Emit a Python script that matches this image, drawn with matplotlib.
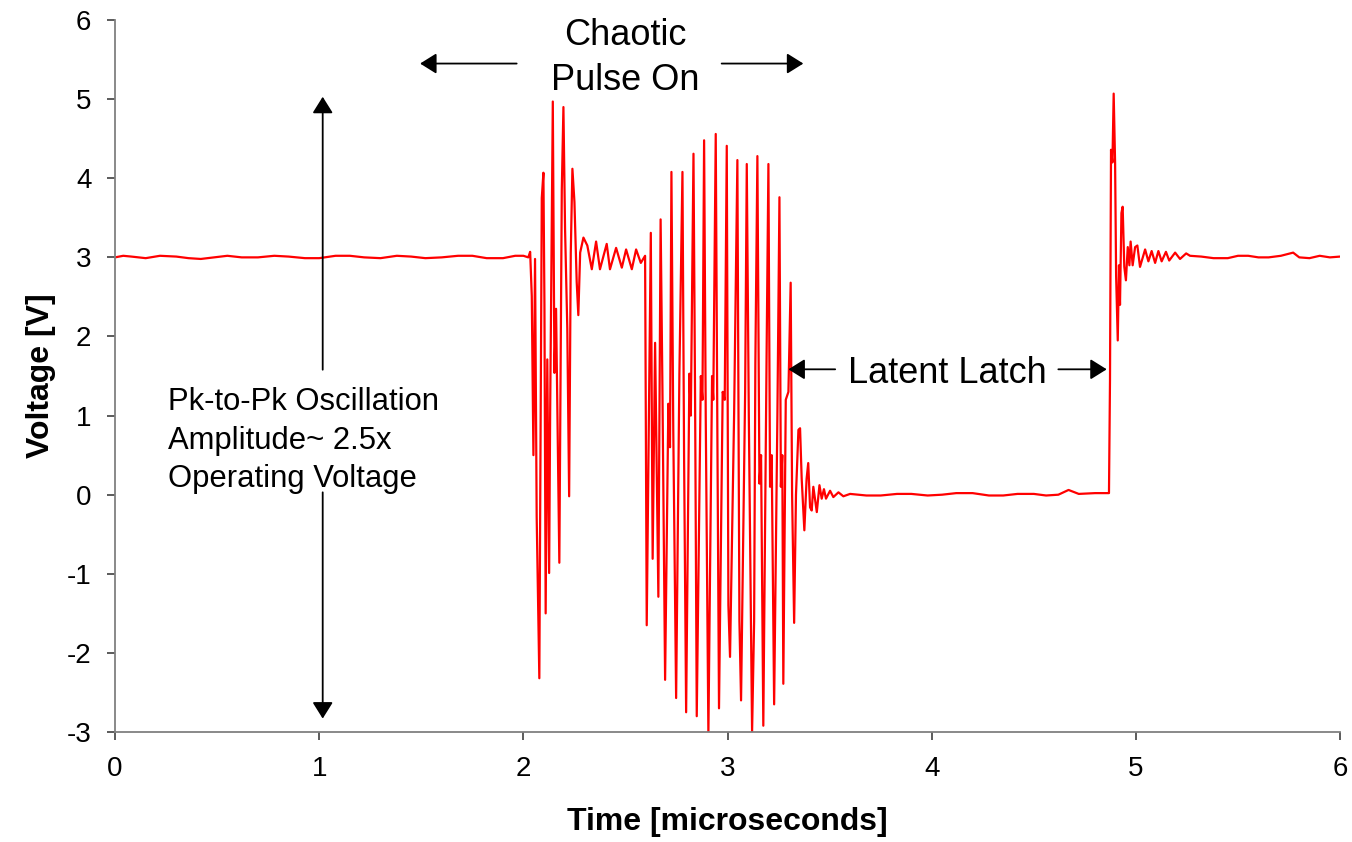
import matplotlib
matplotlib.use('Agg')
import matplotlib.pyplot as plt

plt.rcParams['font.family'] = ['Liberation Sans', 'DejaVu Sans']
plt.rcParams['axes.unicode_minus'] = False

# tramo plano inicial a 3 V
t_plano1 = [0.0, 0.04, 0.08, 0.15, 0.22, 0.3, 0.36, 0.42, 0.55, 0.62, 0.7, 0.78, 0.85, 0.93, 1.0, 1.08,
            1.15, 1.22, 1.3, 1.38, 1.45, 1.52, 1.6, 1.68, 1.75, 1.82, 1.9, 1.96, 2.0, 2.024]
v_plano1 = [3.0, 3.02, 3.01, 2.99, 3.02, 3.01, 2.99, 2.98, 3.02, 3.0, 3.0, 3.02, 3.01, 2.99, 2.99, 3.02,
            3.02, 3.0, 2.99, 3.02, 3.01, 2.99, 3.0, 3.02, 3.02, 2.99, 2.99, 3.02, 3.02, 3.0]

# primer estallido
t_rafaga1 = [2.033, 2.041, 2.049, 2.057, 2.065, 2.078, 2.090, 2.098, 2.103, 2.109, 2.117, 2.126, 2.131,
             2.144, 2.152, 2.160, 2.176, 2.188, 2.196, 2.204, 2.215, 2.224, 2.232, 2.240, 2.250, 2.261,
             2.269, 2.278, 2.294, 2.313, 2.335, 2.356, 2.375, 2.408, 2.424, 2.454, 2.482, 2.503, 2.531,
             2.552, 2.575, 2.596]
v_rafaga1 = [3.07, 2.51, 0.50, 2.98, -0.28, -2.32, 3.75, 4.07, 2.40, -1.50, 1.71, -0.99, 1.03,
             4.97, 1.54, 2.35, -0.86, 3.85, 4.90, 3.36, 2.10, -0.02, 3.06, 4.12, 3.70, 2.69,
             2.27, 3.06, 3.25, 3.15, 2.85, 3.20, 2.85, 3.17, 2.85, 3.12, 2.87, 3.10, 2.85,
             3.10, 2.93, 3.02]

# segundo estallido (pulso caotico)
t_rafaga2 = [2.604, 2.624, 2.633, 2.645, 2.661, 2.672, 2.681, 2.694, 2.710, 2.718, 2.725, 2.734, 2.748,
             2.764, 2.779, 2.787, 2.797, 2.813, 2.820, 2.833, 2.841, 2.849, 2.869, 2.877, 2.885, 2.893,
             2.906, 2.924, 2.930, 2.942, 2.950, 2.958, 2.976, 2.986, 2.996, 3.004, 3.012, 3.032, 3.048,
             3.058, 3.066, 3.086, 3.094, 3.104, 3.120, 3.130, 3.136, 3.146, 3.156, 3.164, 3.175, 3.191,
             3.200, 3.208, 3.216, 3.228, 3.244, 3.254, 3.261, 3.268, 3.273, 3.285, 3.298, 3.309, 3.316,
             3.326, 3.335, 3.347, 3.355, 3.363, 3.376, 3.387, 3.395, 3.404, 3.412, 3.420, 3.428, 3.437,
             3.450, 3.461, 3.472, 3.482, 3.502, 3.518, 3.543, 3.567]
v_rafaga2 = [-1.65, 3.31, -0.81, 1.92, -1.29, 3.48, 1.32, -2.34, 1.15, 0.60, 4.08, 0.82, -2.57,
             1.53, 4.08, 0.46, -2.75, 1.53, 1.00, 4.31, 1.15, -2.80, 1.50, 1.20, 4.48, 1.00,
             -3.03, 1.50, 1.20, 4.56, 0.80, -2.70, 1.30, 1.20, 4.41, -1.40, -2.05, 1.02, 4.23,
             -1.60, -2.60, 1.30, 4.18, 1.00, -3.00, -1.60, 1.65, 4.28, 0.14, 0.50, -2.92, 1.75,
             4.18, 0.10, 0.50, -2.65, 1.00, 3.76, 0.10, 0.50, -2.39, 1.20, 1.30, 2.68, 0.00,
             -1.62, 0.00, 0.82, 0.84, 0.20, -0.45, 0.20, 0.40, -0.16, -0.20, 0.10, -0.05, -0.22,
             0.12, -0.05, 0.07, -0.05, 0.05, -0.03, 0.03, -0.02]

# tramo latente a 0 V
t_latch = [3.6, 3.68, 3.75, 3.83, 3.9, 3.98, 4.05, 4.12, 4.2, 4.28, 4.35, 4.42, 4.5, 4.56, 4.62,
           4.67, 4.72, 4.8, 4.868]
v_latch = [0.01, -0.01, -0.01, 0.01, 0.01, -0.01, 0.0, 0.02, 0.02, -0.01, -0.01, 0.01, 0.01, -0.01,
           0.0, 0.06, 0.01, 0.02, 0.02]

# recuperacion
t_recup = [4.873, 4.878, 4.885, 4.891, 4.898, 4.903, 4.911, 4.917, 4.922, 4.929, 4.935, 4.943, 4.951,
           4.960, 4.968, 4.974, 4.984, 4.996, 5.007, 5.020, 5.045, 5.061, 5.077, 5.094, 5.110, 5.126,
           5.147, 5.163, 5.192, 5.216, 5.246, 5.265]
v_recup = [1.45, 4.36, 4.20, 5.07, 4.19, 2.76, 1.95, 2.90, 2.40, 3.56, 3.64, 2.88, 2.71,
           3.13, 2.90, 3.20, 2.90, 3.13, 3.15, 2.88, 3.10, 2.95, 3.08, 2.93, 3.08, 2.95,
           3.07, 2.96, 3.06, 2.98, 3.05, 3.02]

# tramo plano final a 3 V
t_plano2 = [5.32, 5.38, 5.45, 5.5, 5.55, 5.6, 5.65, 5.71, 5.77, 5.8, 5.85, 5.9, 5.95, 6.0]
v_plano2 = [3.01, 2.99, 2.99, 3.02, 3.02, 3.0, 3.0, 3.02, 3.06, 3.0, 2.99, 3.02, 3.0, 3.01]

tiempo = t_plano1 + t_rafaga1 + t_rafaga2 + t_latch + t_recup + t_plano2
voltaje = v_plano1 + v_rafaga1 + v_rafaga2 + v_latch + v_recup + v_plano2

fig = plt.figure(figsize=(13.52, 8.42), dpi=100)
ax = fig.add_axes([0.0851, 0.1306, 0.9061, 0.8456])
ax.plot(tiempo, voltaje, color='#ff0000', lw=1.6)

ax.set_xlim(0, 6)
ax.set_ylim(-3, 6)
ax.set_xticks(range(0, 7))
ax.set_yticks(range(-3, 7))
for s in ['top', 'right']:
    ax.spines[s].set_visible(False)
for s in ['left', 'bottom']:
    ax.spines[s].set_color('#808080')
    ax.spines[s].set_linewidth(1.3)
ax.tick_params(axis='both', labelsize=20, length=6, width=1.2, color='#404040', pad=11)
ax.set_xlabel('Time [microseconds]', fontsize=23, fontweight='bold', labelpad=18)
ax.set_ylabel('Voltage [V]', fontsize=23, fontweight='bold', labelpad=8)

# flechas y textos
flecha = dict(arrowstyle='-|>,head_length=0.4,head_width=0.25', mutation_scale=25,
              color='k', lw=1.3, shrinkA=0, shrinkB=0)
ax.annotate('', xy=(1.494, 5.45), xytext=(1.967, 5.45), arrowprops=flecha)
ax.annotate('', xy=(3.371, 5.45), xytext=(2.971, 5.45), arrowprops=flecha)
ax.text(2.5, 5.684, 'Chaotic', fontsize=26, ha='center', va='baseline')
ax.text(2.5, 5.115, 'Pulse On', fontsize=26, ha='center', va='baseline')

ax.annotate('', xy=(3.298, 1.585), xytext=(3.527, 1.585), arrowprops=flecha)
ax.annotate('', xy=(4.857, 1.585), xytext=(4.620, 1.585), arrowprops=flecha)
ax.text(4.077, 1.415, 'Latent Latch', fontsize=26, ha='center', va='baseline')

ax.annotate('', xy=(1.017, 5.03), xytext=(1.017, 1.58), arrowprops=flecha)
ax.annotate('', xy=(1.017, -2.83), xytext=(1.017, 0.03), arrowprops=flecha)
ax.text(0.261, 1.07, 'Pk-to-Pk Oscillation', fontsize=22.3, ha='left', va='baseline')
ax.text(0.261, 0.573, 'Amplitude~ 2.5x', fontsize=22.3, ha='left', va='baseline')
ax.text(0.261, 0.10, 'Operating Voltage', fontsize=22.3, ha='left', va='baseline')

plt.savefig('out.png', dpi=100)
